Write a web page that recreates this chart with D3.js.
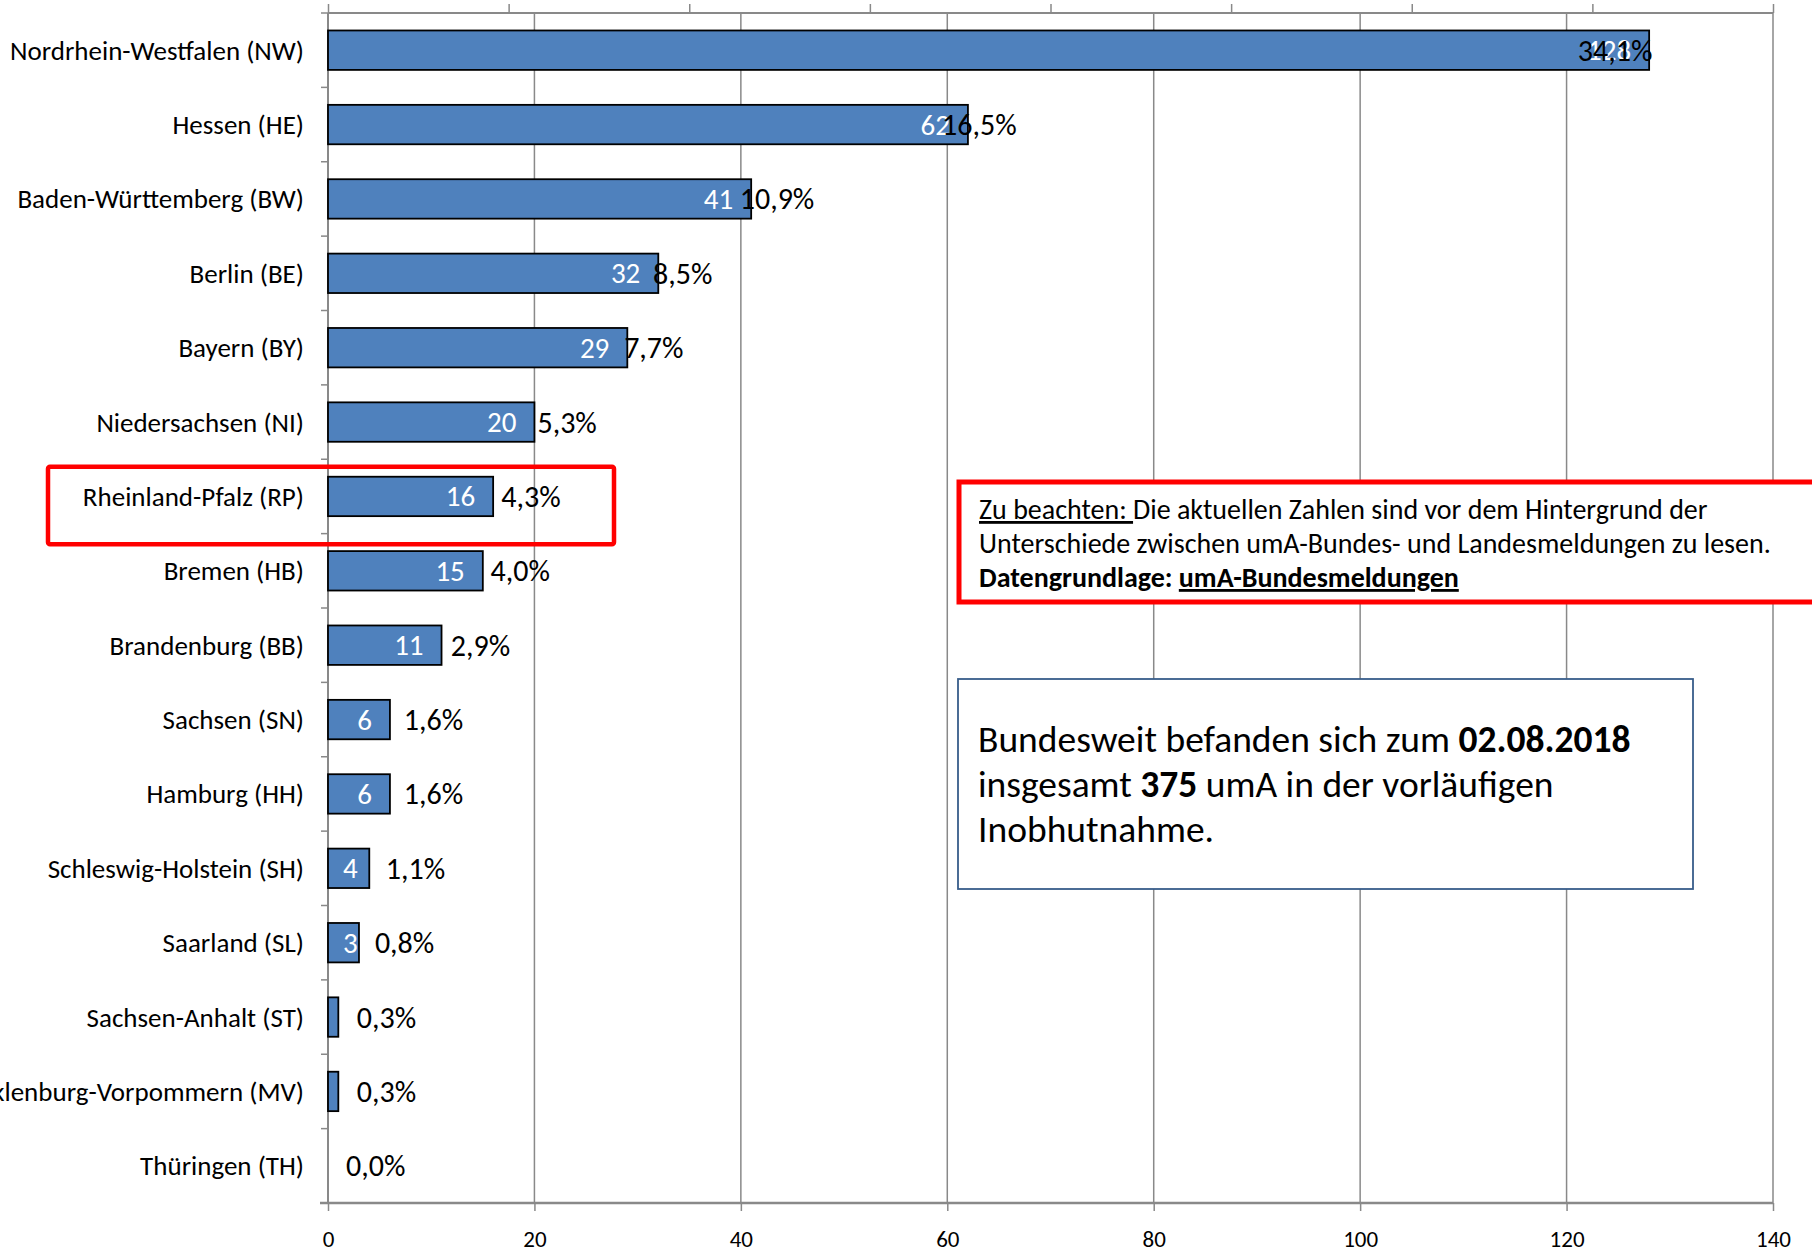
<!DOCTYPE html>
<html>
<head>
<meta charset="utf-8">
<script src="https://cdn.jsdelivr.net/npm/d3@7"></script>
<style>
  html, body { margin: 0; padding: 0; background: #fff; }
  svg { display: block; }
  text { font-family: Carlito, Calibri, Lato, "Noto Sans", sans-serif; }
</style>
</head>
<body>
<svg id="chart" width="1812" height="1250"></svg>
<script>
const categories = [
  "Nordrhein-Westfalen (NW)", "Hessen (HE)", "Baden-Württemberg (BW)", "Berlin (BE)",
  "Bayern (BY)", "Niedersachsen (NI)", "Rheinland-Pfalz (RP)", "Bremen (HB)",
  "Brandenburg (BB)", "Sachsen (SN)", "Hamburg (HH)", "Schleswig-Holstein (SH)",
  "Saarland (SL)", "Sachsen-Anhalt (ST)", "Mecklenburg-Vorpommern (MV)", "Thüringen (TH)"
];
const counts = [128, 62, 41, 32, 29, 20, 16, 15, 11, 6, 6, 4, 3, 1, 1, 0];
const shares = [34.1, 16.5, 10.9, 8.5, 7.7, 5.3, 4.3, 4.0, 2.9, 1.6, 1.6, 1.1, 0.8, 0.3, 0.3, 0.0];
const xTicks = [0, 20, 40, 60, 80, 100, 120, 140];
const shareTicks = [0, 5, 10, 15, 20, 25, 30, 35, 40];
const highlighted = "Rheinland-Pfalz (RP)";
const noteLines = [
  [{t: "Zu beachten: ", u: true}, {t: "Die aktuellen Zahlen sind vor dem Hintergrund der"}],
  [{t: "Unterschiede zwischen umA-Bundes- und Landesmeldungen zu lesen."}],
  [{t: "Datengrundlage: ", b: true}, {t: "umA-Bundesmeldungen", b: true, u: true}]
];
const infoLines = [
  [{t: "Bundesweit befanden sich zum "}, {t: "02.08.2018", b: true}],
  [{t: "insgesamt "}, {t: "375", b: true}, {t: " umA in der vorläufigen"}],
  [{t: "Inobhutnahme."}]
];

const svg = d3.select("#chart");
const L = 328, R = 1773, T = 13, B = 1203;
const grey = "#898989";

const x = d3.scaleLinear().domain([0, 140]).range([L, R]);
const x2 = d3.scaleLinear().domain([0, 40]).range([L, R]);
const y = d3.scaleBand().domain(categories).range([T, B]).paddingInner(0.47).paddingOuter(0.235);

// vertical gridlines
svg.append("g").selectAll("line").data(xTicks.slice(1)).join("line")
  .attr("x1", d => x(d)).attr("x2", d => x(d)).attr("y1", T).attr("y2", B)
  .attr("stroke", grey).attr("stroke-width", 1.5);

// top secondary axis (no labels)
const topAxis = d3.axisTop(x2).tickValues(shareTicks).tickSize(9).tickFormat("");
const gTop = svg.append("g").attr("transform", `translate(0,${T})`).call(topAxis);
gTop.select(".domain").attr("stroke", grey).attr("stroke-width", 2).attr("d", `M${L},0H${R}`);
gTop.selectAll(".tick line").attr("stroke", grey).attr("stroke-width", 1.5);

// bottom axis
const bottomAxis = d3.axisBottom(x).tickValues(xTicks).tickSize(8).tickPadding(20);
const gBot = svg.append("g").attr("transform", `translate(0,${B})`).call(bottomAxis);
gBot.select(".domain").attr("stroke", grey).attr("stroke-width", 2.5).attr("d", `M${L - 8},0H${R}`);
gBot.selectAll(".tick line").attr("stroke", grey).attr("stroke-width", 1.5);
gBot.selectAll(".tick text").attr("fill", "#000").style("font-size", "23px")
  .style("font-family", "Carlito, Calibri, Lato, sans-serif");

// left axis with ticks at band boundaries
const gLeft = svg.append("g");
gLeft.append("line").attr("x1", L).attr("x2", L).attr("y1", T).attr("y2", B)
  .attr("stroke", grey).attr("stroke-width", 2);
gLeft.selectAll("line.tk").data(categories.slice(1)).join("line").attr("class", "tk")
  .attr("x1", L - 7).attr("x2", L)
  .attr("y1", d => y(d) - y.step() * y.paddingInner() / 2)
  .attr("y2", d => y(d) - y.step() * y.paddingInner() / 2)
  .attr("stroke", grey).attr("stroke-width", 1.5);
gLeft.selectAll("line.tk0").data([T]).join("line").attr("class", "tk0")
  .attr("x1", L - 7).attr("x2", L).attr("y1", d => d).attr("y2", d => d)
  .attr("stroke", grey).attr("stroke-width", 1.5);

// category labels
svg.append("g").selectAll("text").data(categories).join("text")
  .attr("x", L - 24).attr("y", d => y(d) + y.bandwidth() / 2)
  .attr("text-anchor", "end").attr("dominant-baseline", "central")
  .style("font-size", "27px").attr("fill", "#000").text(d => d);

// bars
const data = categories.map((c, i) => ({c, v: counts[i], p: shares[i]}));
svg.append("g").selectAll("rect").data(data).join("rect")
  .attr("x", x(0)).attr("y", d => y(d.c))
  .attr("width", d => Math.max(0, x(d.v) - x(0))).attr("height", y.bandwidth())
  .attr("fill", "#4F81BD").attr("stroke", "#000").attr("stroke-width", 1.8)
  .attr("stroke-opacity", d => d.v > 0 ? 1 : 0);

// count labels (white, inside end)
const countG = svg.append("g");
countG.selectAll("text").data(data).join("text")
  .attr("y", d => y(d.c) + y.bandwidth() / 2)
  .attr("dominant-baseline", "central").attr("text-anchor", "end")
  .style("font-size", "29px").attr("fill", "#fff").text(d => d.v)
  .each(function(d) {
    const w = this.getComputedTextLength();
    const right = Math.max(x(d.v) - 18, x(0) + 15 + w);
    d3.select(this).attr("x", right);
  });

// share labels (black, outside end on secondary scale)
const fmt = v => v.toFixed(1).replace(".", ",") + "%";
svg.append("g").selectAll("text").data(data).join("text")
  .attr("x", d => x2(d.p) + 18).attr("y", d => y(d.c) + y.bandwidth() / 2)
  .attr("dominant-baseline", "central")
  .style("font-size", "30px").attr("fill", "#000").text(d => fmt(d.p));

// red highlight box around Rheinland-Pfalz
const yr = y(highlighted);
svg.append("rect")
  .attr("x", 48).attr("y", yr - 10).attr("width", 566).attr("height", y.bandwidth() + 38)
  .attr("rx", 2).attr("fill", "none").attr("stroke", "#FF0000").attr("stroke-width", 4.5);

// note box
function richLines(g, lines, x0, y0, lh, size) {
  lines.forEach((line, i) => {
    const t = g.append("text").attr("x", x0).attr("y", y0 + i * lh)
      .style("font-size", size + "px").attr("fill", "#000");
    line.forEach(seg => {
      t.append("tspan").text(seg.t)
        .attr("font-weight", seg.b ? "bold" : null)
        .attr("text-decoration", seg.u ? "underline" : null)
        .style("text-decoration", seg.u ? "underline" : null);
    });
  });
}
const noteG = svg.append("g");
noteG.append("rect").attr("x", 959).attr("y", 482).attr("width", 900).attr("height", 120)
  .attr("fill", "#fff").attr("stroke", "#FF0000").attr("stroke-width", 5);
richLines(noteG, noteLines, 979, 519, 34, 28);

// info box
const infoG = svg.append("g");
infoG.append("rect").attr("x", 958).attr("y", 679).attr("width", 735).attr("height", 210)
  .attr("fill", "#fff").attr("stroke", "#385D8A").attr("stroke-width", 1.8);
richLines(infoG, infoLines, 978, 752, 45, 37.5);
</script>
</body>
</html>
